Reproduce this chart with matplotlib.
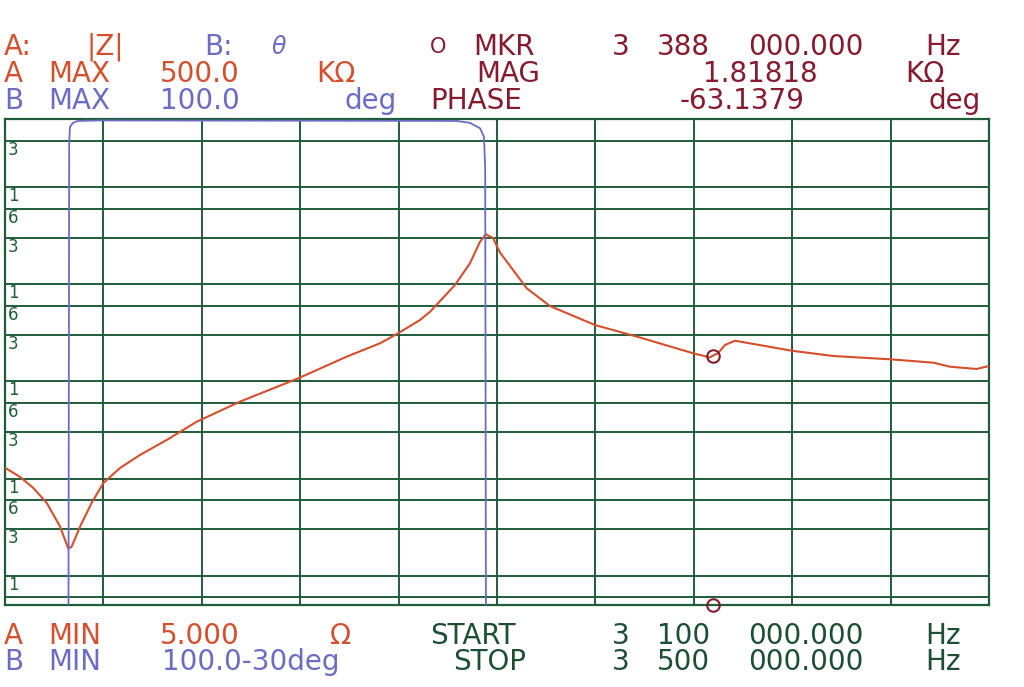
import matplotlib
matplotlib.use("Agg")
import matplotlib.pyplot as plt
import numpy as np

# |Z| trace (frequency in MHz, impedance in ohm)
f_mhz = [3.1000, 3.1061, 3.1115, 3.1170, 3.1224, 3.1257, 3.1271, 3.1305, 3.1352,
         3.1400, 3.1467, 3.1549, 3.1657, 3.1779, 3.1955, 3.2192, 3.2389, 3.2524,
         3.2593, 3.2687, 3.2728, 3.2829, 3.2890, 3.2931, 3.2955, 3.2984, 3.3012,
         3.3121, 3.3215, 3.3398, 3.3581, 3.3797, 3.3866, 3.3874, 3.3898, 3.3927,
         3.3967, 3.4198, 3.4367, 3.4598, 3.4774, 3.4841, 3.4950, 3.5000]
z_ohm = [129, 104, 80, 56, 32, 19.1, 19.9, 32, 56,
         90, 128, 175, 249, 384, 618, 1074, 1794, 2461,
         3069, 4277, 5203, 9787, 16370, 27330, 32580, 29850, 21180,
         9057, 5955, 3800, 2826, 1945, 1760, 1818, 1945, 2366,
         2618, 2066, 1822, 1686, 1556, 1415, 1340, 1439]

# phase trace (deg); values below the B MIN limit are clipped at the bottom
phase_f = [3.1000, 3.1258, 3.1261, 3.1264, 3.1276, 3.1297, 3.1386, 3.2836,
           3.2890, 3.2931, 3.2947, 3.2952, 3.2955, 3.5000]
phase_deg = [-105, -105, 90, 96.7, 98.4, 99.2, 99.4, 99.2,
             98.4, 96.2, 92.7, 80, -105, -105]

# marker
mkr_f = 3.388
mkr_z = 1818.18
mkr_phase = -63.1379

# log grid lines on the A scale and their labels
grid_values = [300e3, 100e3, 60e3, 30e3, 10e3, 6e3, 3e3, 1e3, 600, 300, 100, 60, 30, 10, 6]
grid_labels = ["3", "1", "6", "3", "1", "6", "3", "1", "6", "3", "1", "6", "3", "1", ""]

f_start, f_stop = 3.1, 3.5
a_min, a_max = 5.0, 500e3
b_min, b_max = -100.0, 100.0

RED = "#d64f2c"
BLUE = "#6c6cc4"
MAROON = "#861b30"
GREEN = "#1c4f33"
GRID = "#1f5c3b"

W, H = 1024, 687
fig = plt.figure(figsize=(W / 100, H / 100), dpi=100)
fig.patch.set_facecolor("white")

ax = fig.add_axes([5 / W, (H - 605) / H, 984 / W, 486 / H])
ax.set_xlim(f_start, f_stop)
ax.set_yscale("log")
ax.set_ylim(a_min, a_max)
ax.set_xticks(np.linspace(f_start, f_stop, 11))
ax.set_yticks(grid_values)
ax.minorticks_off()
ax.tick_params(length=0, labelleft=False, labelbottom=False)
ax.grid(True, color=GRID, linewidth=1.4)
for sp in ax.spines.values():
    sp.set_color(GRID)
    sp.set_linewidth(1.6)

for v, lab in zip(grid_values, grid_labels):
    if lab:
        ax.annotate(lab, xy=(0, v), xycoords=("axes fraction", "data"),
                    xytext=(2, -6.5), textcoords="offset points",
                    ha="left", va="center", fontsize=12, color=GRID)

ax.plot(f_mhz, z_ohm, color=RED, linewidth=1.5, zorder=3)
ax.plot([mkr_f], [mkr_z], marker="o", markersize=9, fillstyle="none",
        markeredgecolor=MAROON, markeredgewidth=1.5, linestyle="none", zorder=4)

bx = ax.twinx()
bx.set_ylim(b_min, b_max)
bx.axis("off")
bx.plot(phase_f, phase_deg, color=BLUE, linewidth=1.3, zorder=3)
# phase marker sits on the clipped trace at the bottom edge
bx.plot([mkr_f], [b_min], marker="o",
        markersize=9, fillstyle="none", markeredgecolor=MAROON,
        markeredgewidth=1.5, linestyle="none", clip_on=False, zorder=4)


def put(x, y, s, color, size=20, **kw):
    fig.text(x / W, 1 - y / H, s, color=color, fontsize=size, ha="left",
             va="center", family="DejaVu Sans", **kw)


# header
put(4, 47, "A:", RED)
put(86, 47, "|Z|", RED)
put(204, 47, "B:", BLUE)
put(272, 47, "θ", BLUE, size=17, style="italic")
put(430, 47, "O", MAROON, size=15)
put(473, 47, "MKR", MAROON)
put(612, 47, "3", MAROON)
put(657, 47, "388", MAROON)
put(748, 47, "000.000", MAROON)
put(925, 47, "Hz", MAROON)

put(4, 74, "A", RED)
put(48, 74, "MAX", RED)
put(160, 74, "500.0", RED)
put(316, 74, "KΩ", RED)
put(476, 74, "MAG", MAROON)
put(703, 74, "1.81818", MAROON)
put(905, 74, "KΩ", MAROON)

put(4, 101, "B", BLUE)
put(48, 101, "MAX", BLUE)
put(160, 101, "100.0", BLUE)
put(344, 101, "deg", BLUE)
put(430, 101, "PHASE", MAROON)
put(680, 101, "-63.1379", MAROON)
put(928, 101, "deg", MAROON)

# footer
put(4, 636, "A", RED)
put(48, 636, "MIN", RED)
put(160, 636, "5.000", RED)
put(330, 636, "Ω", RED)
put(430, 636, "START", GREEN)
put(612, 636, "3", GREEN)
put(657, 636, "100", GREEN)
put(748, 636, "000.000", GREEN)
put(925, 636, "Hz", GREEN)

put(4, 662, "B", BLUE)
put(48, 662, "MIN", BLUE)
put(162, 662, "100.0-30deg", BLUE)
put(453, 662, "STOP", GREEN)
put(612, 662, "3", GREEN)
put(657, 662, "500", GREEN)
put(748, 662, "000.000", GREEN)
put(925, 662, "Hz", GREEN)

fig.savefig("out.png", dpi=100, facecolor="white")
